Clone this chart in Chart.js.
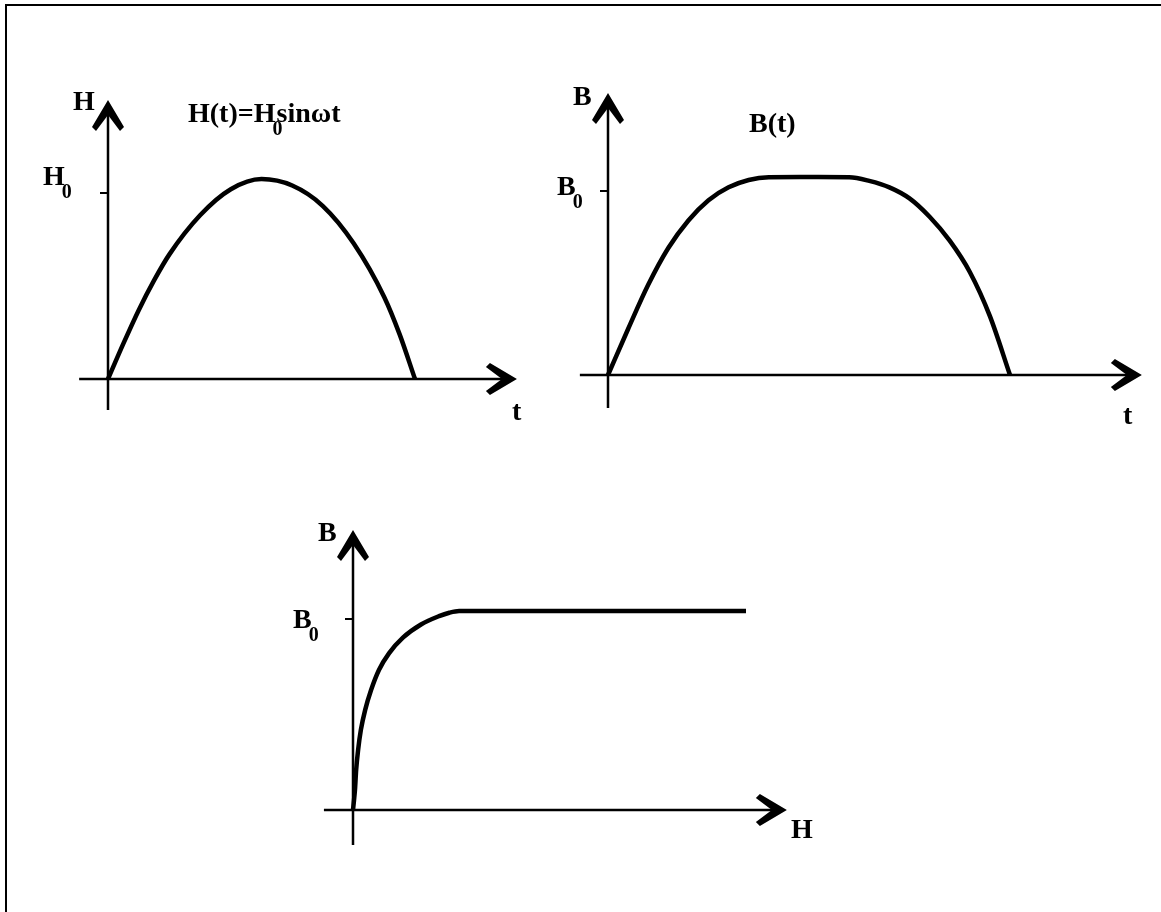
<!DOCTYPE html>
<html lang="en">
<head>
    <meta charset="UTF-8">
    <title>H(t), B(t) and B(H)</title>
    <script src="https://cdn.jsdelivr.net/npm/chart.js"></script>
    <style>
        body {
            margin: 0;
            background: #fff;
        }
        .page {
            position: relative;
            width: 1161px;
            height: 912px;
            overflow: hidden;
        }
        .frame {
            position: absolute;
            left: 5px;
            top: 4px;
            right: -10px;
            bottom: -10px;
            border-top: 2px solid #000;
            border-left: 2px solid #000;
        }
        canvas {
            position: absolute;
            left: 0;
            top: 0;
        }
    </style>
</head>
<body>
    <div class="page">
        <div class="frame"></div>
        <canvas id="fieldChart" width="1161" height="912"></canvas>
        <canvas id="fluxTimeChart" width="1161" height="912"></canvas>
        <canvas id="fluxFieldChart" width="1161" height="912"></canvas>
    </div>

    <script>
        // H(t): t in half periods, H in units of H0
        const fieldTime  = [0, 0.05, 0.10, 0.15, 0.20, 0.30, 0.40, 0.50, 0.60, 0.70, 0.80, 0.90, 0.95, 1.00];
        const fieldValue = [0, 0.19, 0.37, 0.53, 0.67, 0.88, 1.02, 1.075, 1.04, 0.93, 0.73, 0.44, 0.24, 0];

        // B(t): B in units of B0, flat top while saturated
        const fluxTime  = [0, 0.05, 0.10, 0.15, 0.20, 0.25, 0.30, 0.35, 0.40, 0.50, 0.60, 0.65, 0.70, 0.75, 0.80, 0.85, 0.90, 0.95, 1.00];
        const fluxValue = [0, 0.25, 0.49, 0.69, 0.84, 0.95, 1.02, 1.06, 1.075, 1.076, 1.075, 1.055, 1.02, 0.96, 0.86, 0.73, 0.56, 0.32, 0];

        // B(H): magnetisation curve
        const curveField = [0, 0.0025, 0.005, 0.008, 0.013, 0.020, 0.031, 0.046, 0.066, 0.092, 0.127, 0.173, 0.219, 0.245, 0.27, 1.00];
        const curveFlux  = [0, 0.05, 0.105, 0.209, 0.314, 0.419, 0.524, 0.628, 0.733, 0.821, 0.902, 0.971, 1.015, 1.033, 1.042, 1.042];

        // axis names, tick labels, captions
        const fieldNames = ['H', 't', 'H', '0'];
        const fluxNames  = ['B', 't', 'B', '0'];
        const curveNames = ['B', 'H', 'B', '0'];
        const fieldTitle = ['H(t)=H', '0', 'sinωt'];
        const fluxTitle  = ['B(t)'];

        const W = 1161, H = 912;
        const MAIN_FONT = 'bold 28px "Liberation Serif", "Times New Roman", serif';
        const SUB_FONT = 'bold 20px "Liberation Serif", "Times New Roman", serif';

        // value range of a hidden scale so that 0 sits at originPx and 1 unit = unitPx
        const range = (originPx, unitPx, sizePx, flip) => flip
            ? { min: -(sizePx - originPx) / unitPx, max: originPx / unitPx }
            : { min: -originPx / unitPx, max: (sizePx - originPx) / unitPx };

        const arrowHead = (ctx, x, y, dx, dy) => {
            const px = -dy, py = dx;
            const pt = (u, v) => [x + dx * u + px * v, y + dy * u + py * v];
            const pts = [pt(0, 0), pt(-27, -16), pt(-31, -12), pt(-15, 0), pt(-31, 12), pt(-27, 16)];
            ctx.beginPath();
            ctx.moveTo(...pts[0]);
            pts.slice(1).forEach(p => ctx.lineTo(...p));
            ctx.closePath();
            ctx.fill();
        };

        // parts: [text, isSubscript]; subscript drawn lower and partly overlapped
        const drawLabel = (ctx, x, y, parts) => {
            let cx = x;
            parts.forEach(([text, sub]) => {
                if (sub) {
                    ctx.font = SUB_FONT;
                    ctx.fillText(text, cx - 3, y + 13);
                    cx += 1;
                } else {
                    ctx.font = MAIN_FONT;
                    ctx.fillText(text, cx, y);
                    cx += ctx.measureText(text).width;
                }
            });
        };

        const axesPlugin = {
            id: 'sketchAxes',
            beforeDatasetsDraw(chart, args, opts) {
                const ctx = chart.ctx, xs = chart.scales.x, ys = chart.scales.y;
                const ox = xs.getPixelForValue(0), oy = ys.getPixelForValue(0);
                const x0 = xs.getPixelForValue(opts.xAxis[0]), x1 = xs.getPixelForValue(opts.xAxis[1]);
                const y0 = ys.getPixelForValue(opts.yAxis[0]), y1 = ys.getPixelForValue(opts.yAxis[1]);
                const ty = ys.getPixelForValue(opts.tick);
                ctx.save();
                ctx.strokeStyle = '#000';
                ctx.fillStyle = '#000';
                ctx.lineWidth = 2.5;
                ctx.beginPath();
                ctx.moveTo(x0, oy);
                ctx.lineTo(x1 - 12, oy);
                ctx.moveTo(ox, y0);
                ctx.lineTo(ox, y1 + 12);
                ctx.stroke();
                arrowHead(ctx, x1, oy, 1, 0);
                arrowHead(ctx, ox, y1, 0, -1);
                ctx.lineWidth = 2;
                ctx.beginPath();
                ctx.moveTo(ox - 8, ty);
                ctx.lineTo(ox, ty);
                ctx.stroke();
                ctx.restore();
            },
            afterDatasetsDraw(chart, args, opts) {
                const ctx = chart.ctx;
                ctx.save();
                ctx.fillStyle = '#000';
                ctx.textBaseline = 'alphabetic';
                opts.labels.forEach(l => drawLabel(ctx, l.x, l.y, l.parts));
                ctx.restore();
            }
        };

        const makeChart = (id, xs, ys, layout, deco) => {
            const xr = range(layout.ox, layout.ux, W, false);
            const yr = range(layout.oy, layout.uy, H, true);
            return new Chart(document.getElementById(id), {
                type: 'line',
                data: {
                    datasets: [{
                        data: xs.map((x, i) => ({ x: x, y: ys[i] })),
                        borderColor: '#000',
                        borderWidth: 4.5,
                        pointRadius: 0,
                        cubicInterpolationMode: 'monotone',
                        fill: false
                    }]
                },
                options: {
                    responsive: false,
                    animation: false,
                    events: [],
                    layout: { padding: 0, autoPadding: false },
                    plugins: {
                        legend: { display: false },
                        tooltip: { enabled: false },
                        sketchAxes: deco
                    },
                    scales: {
                        x: { type: 'linear', display: false, min: xr.min, max: xr.max },
                        y: { type: 'linear', display: false, min: yr.min, max: yr.max }
                    }
                },
                plugins: [axesPlugin]
            });
        };

        makeChart('fieldChart', fieldTime, fieldValue,
            { ox: 108, ux: 307, oy: 379, uy: 186 },
            {
                xAxis: [-0.094, 1.332], yAxis: [-0.167, 1.5], tick: 1,
                labels: [
                    { x: 73, y: 110, parts: [[fieldNames[0]]] },
                    { x: 512, y: 420, parts: [[fieldNames[1]]] },
                    { x: 43, y: 185, parts: [[fieldNames[2]], [fieldNames[3], true]] },
                    { x: 188, y: 122, parts: [[fieldTitle[0]], [fieldTitle[1], true], [fieldTitle[2]]] }
                ]
            });

        makeChart('fluxTimeChart', fluxTime, fluxValue,
            { ox: 608, ux: 402, oy: 375, uy: 184 },
            {
                xAxis: [-0.070, 1.328], yAxis: [-0.179, 1.533], tick: 1,
                labels: [
                    { x: 573, y: 105, parts: [[fluxNames[0]]] },
                    { x: 1123, y: 424, parts: [[fluxNames[1]]] },
                    { x: 557, y: 195, parts: [[fluxNames[2]], [fluxNames[3], true]] },
                    { x: 749, y: 132, parts: [[fluxTitle[0]]] }
                ]
            });

        makeChart('fluxFieldChart', curveField, curveFlux,
            { ox: 353, ux: 393, oy: 810, uy: 191 },
            {
                xAxis: [-0.074, 1.104], yAxis: [-0.183, 1.466], tick: 1,
                labels: [
                    { x: 318, y: 541, parts: [[curveNames[0]]] },
                    { x: 791, y: 838, parts: [[curveNames[1]]] },
                    { x: 293, y: 628, parts: [[curveNames[2]], [curveNames[3], true]] }
                ]
            });
    </script>
</body>
</html>
